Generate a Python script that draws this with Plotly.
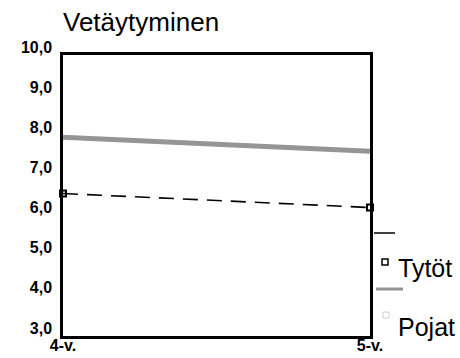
import plotly.graph_objects as go

# Age groups on the x axis
ages = ["4-v.", "5-v."]
# Mean scores per group
tytot = [6.55, 6.2]
pojat = [7.95, 7.6]
# Y axis ticks
y_ticks = [3, 4, 5, 6, 7, 8, 9, 10]
y_tick_labels = ["3,0", "4,0", "5,0", "6,0", "7,0", "8,0", "9,0", "10,0"]

FONT = "Liberation Sans, Arial, sans-serif"
x_pos = list(range(len(ages)))

fig = go.Figure()

fig.add_trace(go.Scatter(
    x=x_pos, y=pojat, mode="lines", name="Pojat",
    line=dict(color="#959595", width=5),
    cliponaxis=False,
))
fig.add_trace(go.Scatter(
    x=x_pos, y=tytot, mode="lines+markers", name="Tytöt",
    line=dict(color="black", width=1.6, dash="15px,9px"),
    marker=dict(symbol="square-open", size=6, color="black", line=dict(width=2)),
    cliponaxis=False,
))

# Plot area geometry in pixels (used for the hand-made legend on the right)
L, R, T, B = 63, 370, 55, 336
W, H = R - L, B - T


def px(x):
    return (x - L) / W


def py(y):
    return (B - y) / H


shapes = [
    # Tytöt legend key: line and marker
    dict(type="line", xref="paper", yref="paper", x0=px(374), x1=px(395), y0=py(233), y1=py(233),
         line=dict(color="black", width=1.5)),
    dict(type="rect", xref="paper", yref="paper", x0=px(382), x1=px(388), y0=py(259), y1=py(265),
         line=dict(color="black", width=1.5)),
    # Pojat legend key: grey line and faint marker
    dict(type="line", xref="paper", yref="paper", x0=px(376), x1=px(403), y0=py(289), y1=py(289),
         line=dict(color="#959595", width=3)),
    dict(type="rect", xref="paper", yref="paper", x0=px(383), x1=px(389), y0=py(312), y1=py(318),
         line=dict(color="#cfcfcf", width=1)),
]

annotations = [
    dict(text="Tytöt", xref="paper", yref="paper", x=px(396), y=py(268), xanchor="left", yanchor="middle",
         showarrow=False, font=dict(family=FONT, size=25, color="black")),
    dict(text="Pojat", xref="paper", yref="paper", x=px(396), y=py(327), xanchor="left", yanchor="middle",
         showarrow=False, font=dict(family=FONT, size=25, color="black")),
    dict(text="Vetäytyminen", xref="paper", yref="paper", x=px(61), y=py(22), xanchor="left", yanchor="middle",
         showarrow=False, font=dict(family=FONT, size=26, color="black")),
]

fig.update_layout(
    width=460, height=358,
    margin=dict(l=L, r=460 - R, t=T, b=358 - B, autoexpand=False),
    paper_bgcolor="white", plot_bgcolor="white",
    showlegend=False,
    shapes=shapes,
    annotations=annotations,
    font=dict(family=FONT, color="black"),
)

fig.update_xaxes(
    range=[0, 1], tickmode="array", tickvals=x_pos, ticktext=ages,
    showgrid=False, zeroline=False, ticks="", automargin=False,
    showline=True, linecolor="black", linewidth=2.5, mirror=True,
    tickfont=dict(family=FONT, size=16, color="black", weight="bold"),
    ticklabelstandoff=-7,
)
fig.update_yaxes(
    range=[3, 10], tickmode="array", tickvals=y_ticks, ticktext=y_tick_labels,
    showgrid=False, zeroline=False, ticks="", automargin=False,
    showline=True, linecolor="black", linewidth=2.5, mirror=True,
    tickfont=dict(family=FONT, size=16, color="black", weight="bold"),
    ticklabelstandoff=5, ticklabelshift=-8,
)

fig.write_html("out.html")
